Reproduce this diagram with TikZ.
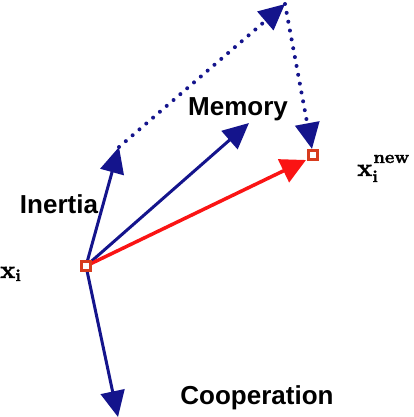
\documentclass[tikz,border=0pt]{standalone}
\usepackage{fontspec}
\setmainfont{Liberation Sans}
\newfontfamily\lmrb{lmroman10-bold}[Extension=.otf, FakeBold=1.5]
\usetikzlibrary{arrows.meta}
\definecolor{navy}{RGB}{20,20,140}
\definecolor{vred}{RGB}{250,20,20}
\definecolor{sqred}{RGB}{215,60,30}
\tikzset{
  vec/.style={draw=navy, line width=3pt, -{Triangle[length=26pt,width=24pt]}},
  dotvec/.style={draw=navy, line width=4pt, line cap=round, dash pattern=on 0pt off 9pt, -{Triangle[length=26pt,width=24pt,line cap=butt]}},
  redvec/.style={draw=vred, line width=3.5pt, -{Triangle[length=25pt,width=25pt]}},
  pt/.style={draw=sqred, fill=white, line width=2.5pt, minimum size=9pt, inner sep=0pt},
  lab/.style={font=\fontsize{26}{28}\selectfont\bfseries, inner sep=0pt},
  mlab/.style={font=\lmrb, inner sep=0pt, anchor=base west}
}
\begin{document}
\begin{tikzpicture}[x=1pt,y=-1pt]
\useasboundingbox (0,0) rectangle (413,417);
\coordinate (inert) at (119,147);
\coordinate (mem) at (249,123);
\coordinate (coop) at (118,417);
\coordinate (top) at (285,4);
\coordinate (xs) at (86,266);
\coordinate (xn) at (313,155);
\coordinate (ntip) at (312,149);
\coordinate (rtip) at (306,160);
\draw[vec] (xs) -- (inert);
\draw[vec] (xs) -- (mem);
\draw[vec] (xs) -- (coop);
\draw[redvec] (xs) -- (rtip);
\draw[dotvec] (inert) -- (top);
\draw[dotvec] (top) -- (ntip);
\node[pt] (xi) at (xs) {};
\node[pt] (xnew) at (xn) {};
\node[lab] (memlab) at (238,109) {Memory};
\node[lab] (inlab) at (59,204) {Inertia};
\node[lab] (cooplab) at (257,398) {Cooperation};
\node[mlab] (xilab) at (0,278) {\fontsize{25}{27}\selectfont x\raisebox{-3pt}{\fontsize{17}{18}\selectfont i}};
\node[mlab] (xnewlab) at (357,176) {\fontsize{25}{27}\selectfont x\raisebox{-6pt}{\rlap{\fontsize{17}{18}\selectfont i}}\hspace{1pt}\raisebox{13pt}{\fontsize{18}{20}\selectfont new}};
\end{tikzpicture}
\end{document}
